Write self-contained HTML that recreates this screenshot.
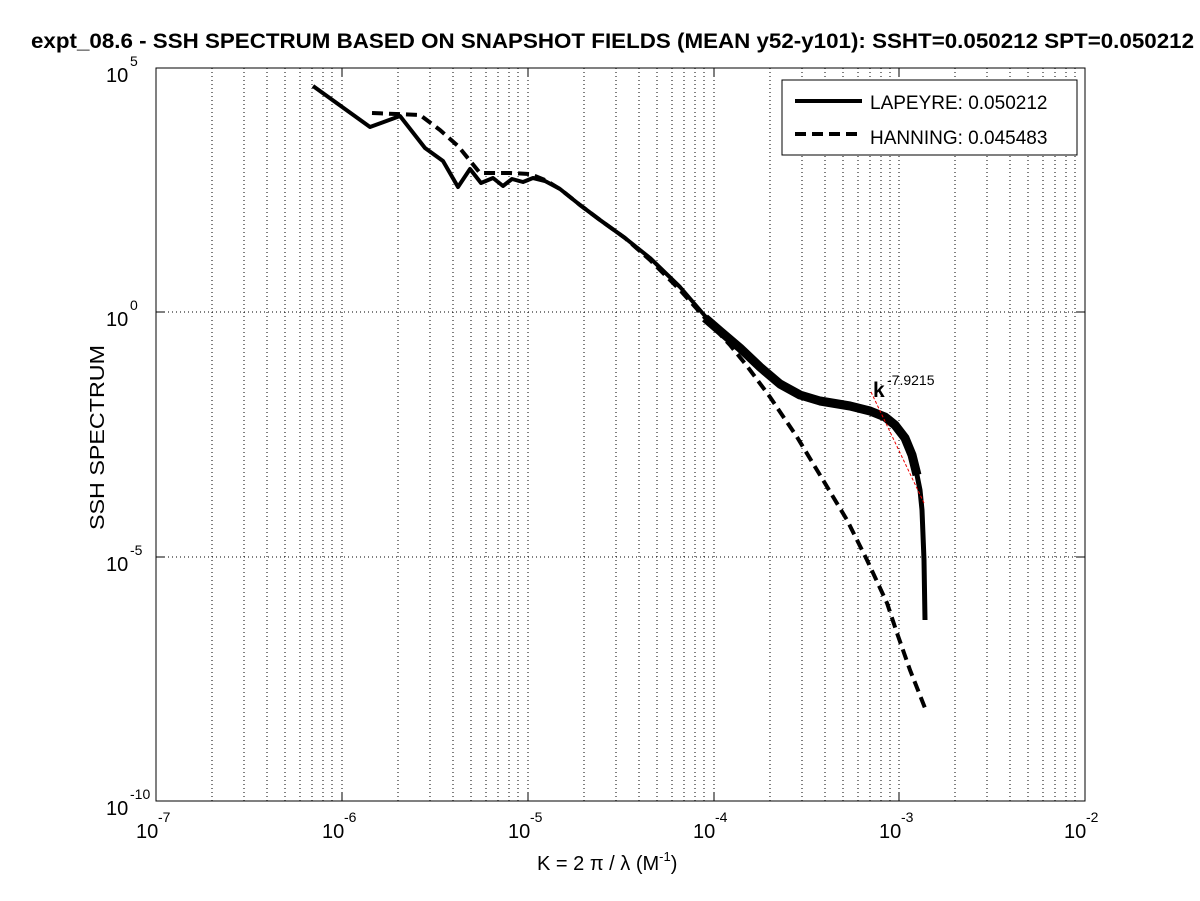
<!DOCTYPE html>
<html><head><style>
body{margin:0;background:#fff;}
svg{display:block;font-family:"Liberation Sans",sans-serif;}
</style></head><body>
<svg width="1200" height="901" viewBox="0 0 1200 901">
<rect width="1200" height="901" fill="#fff"/>
<g stroke="#000" stroke-width="1" stroke-dasharray="1,3" fill="none">
<path d="M212,68V801M244,68V801M267,68V801M285,68V801M300,68V801M312,68V801M323,68V801M332,68V801M342,68V801
M398,68V801M430,68V801M453,68V801M471,68V801M486,68V801M498,68V801M509,68V801M518,68V801M528,68V801
M584,68V801M616,68V801M639,68V801M657,68V801M672,68V801M684,68V801M695,68V801M704,68V801M714,68V801
M770,68V801M802,68V801M825,68V801M843,68V801M858,68V801M870,68V801M881,68V801M890,68V801M899,68V801
M955,68V801M987,68V801M1010,68V801M1028,68V801M1043,68V801M1055,68V801M1066,68V801M1075,68V801"/>
<path d="M156,312H1085M156,557H1085"/>
</g>
<rect x="156" y="68" width="929" height="733" fill="none" stroke="#000" stroke-width="1"/>
<g stroke="#000" stroke-width="1">
<path d="M342,801v-8M528,801v-8M714,801v-8M899,801v-8M342,68v8M528,68v8M714,68v8M899,68v8M156,312h8M156,557h8M1085,312h-8M1085,557h-8"/>
</g>
<!-- dashed series -->
<polyline fill="none" stroke="#000" stroke-width="4" stroke-dasharray="11,6" points="372,113 420,115 440,130 458,146 480,173 510,173 530,174 545,180 560,189 580,205 600,220 625,238 650,260 680,290 705,318 730,345 747,366 770,397 797,437 823,480 847,520 867,560 887,603 897,633 910,670 925,708"/>
<!-- solid series -->
<polyline fill="none" stroke="#000" stroke-width="4" stroke-linejoin="round" points="313,86 370,127 400,116 425,148 443,161 458,187 470,169 481,183 493,178 503,186 512,179 523,182 533,178 545,181 560,189 580,205 600,220 625,238 650,258 680,287 705,316 720,330"/>
<polyline fill="none" stroke="#000" stroke-width="9" stroke-linejoin="round" points="705,318 720,331 740,348 760,367 780,384 800,395 820,401 850,406 870,411 885,417 895,425 905,438 912,455 917,475"/>
<polyline fill="none" stroke="#000" stroke-width="5" stroke-linejoin="round" points="916,470 920,490 922,510 924,560 925,620"/>
<line x1="871" y1="392" x2="924" y2="503" stroke="#e00" stroke-width="1" stroke-dasharray="3,2"/>
<text x="873" y="397" font-size="21" font-weight="bold">k</text><text x="887" y="385" font-size="14">-7.9215</text>
<!-- legend -->
<rect x="782" y="80" width="295" height="75" fill="#fff" stroke="#000"/>
<line x1="795" y1="101" x2="862" y2="101" stroke="#000" stroke-width="4"/>
<line x1="795" y1="134" x2="862" y2="134" stroke="#000" stroke-width="4" stroke-dasharray="11,6"/>
<text x="870" y="109" font-size="19">LAPEYRE: 0.050212</text>
<text x="870" y="144" font-size="19">HANNING: 0.045483</text>
<!-- title -->
<text x="31" y="48" font-size="21" font-weight="bold" textLength="1163" lengthAdjust="spacingAndGlyphs">expt_08.6 - SSH SPECTRUM BASED ON SNAPSHOT FIELDS (MEAN y52-y101): SSHT=0.050212 SPT=0.050212</text>
<g font-size="20">
<text x="106" y="82">10</text><text x="130" y="66" font-size="14">5</text>
<text x="106" y="326">10</text><text x="130" y="310" font-size="14">0</text>
<text x="106" y="571">10</text><text x="130" y="555" font-size="14">-5</text>
<text x="106" y="815">10</text><text x="130" y="799" font-size="14">-10</text>
<text x="136" y="838">10</text><text x="158" y="822" font-size="14">-7</text>
<text x="322" y="838">10</text><text x="344" y="822" font-size="14">-6</text>
<text x="508" y="838">10</text><text x="530" y="822" font-size="14">-5</text>
<text x="693" y="838">10</text><text x="715" y="822" font-size="14">-4</text>
<text x="879" y="838">10</text><text x="901" y="822" font-size="14">-3</text>
<text x="1064" y="838">10</text><text x="1086" y="822" font-size="14">-2</text>
<text x="537" y="870">K = 2 π / λ  (M<tspan font-size="13" dy="-9">-1</tspan><tspan dy="9">)</tspan></text>
<text transform="translate(104,530) rotate(-90)" textLength="185" lengthAdjust="spacingAndGlyphs">SSH SPECTRUM</text>
</g>
</svg>
</body></html>
